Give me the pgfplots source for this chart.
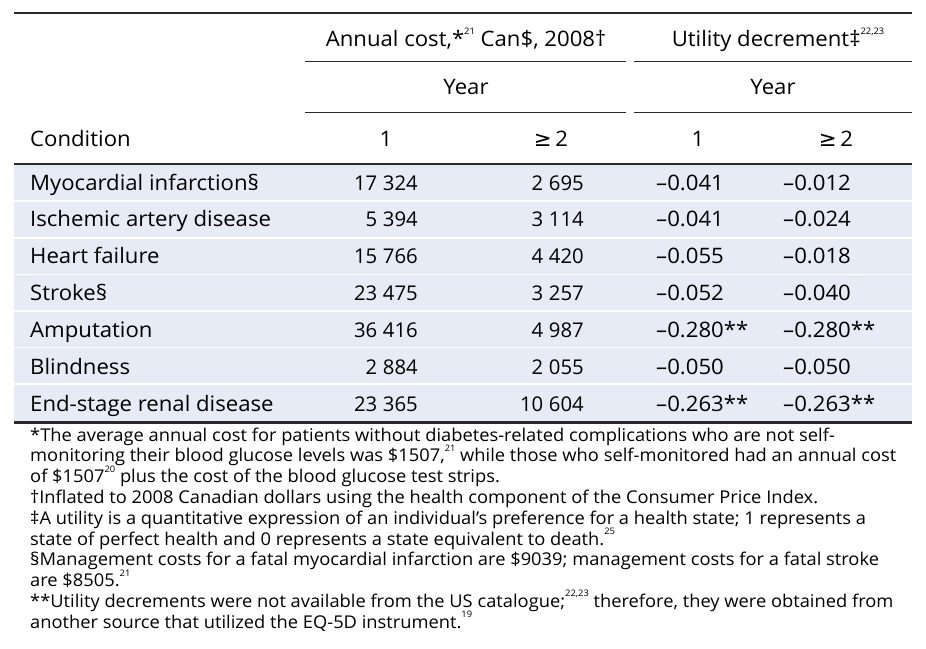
\documentclass[border=0pt]{standalone}
\usepackage{fontspec}
\setmainfont[FakeStretch=1.04]{Open Sans}
\newfontfamily\plainfont{Open Sans}
\newfontfamily\symfont{DejaVu Sans}
\usepackage{pgfplots}
\pgfplotsset{compat=1.18}
\usepackage{pgfplotstable}
\definecolor{band}{HTML}{E7EBF5}
\definecolor{rulec}{HTML}{2A2A2A}
\newcommand\sups[1]{\raisebox{0.6em}{\fontsize{9bp}{9bp}\selectfont #1}}
\newcommand\tfont{\fontsize{21.3bp}{25bp}\selectfont}
\newcommand\nfont{\plainfont\fontsize{20.3bp}{25bp}\selectfont}
\newcommand\ffont{\fontsize{17.6bp}{22bp}\selectfont}
\newcommand\gesym{{\symfont ≥}}

\pgfplotstableread[col sep=semicolon]{
base;cond;c1;c2;u1;u2
190;Myocardial infarction§;17324;2695;–0.041;–0.012
226.8;Ischemic artery disease;5394;3114;–0.041;–0.024
263.7;Heart failure;15766;4420;–0.055;–0.018
300.5;Stroke§;23475;3257;–0.052;–0.040
337.3;Amputation;36416;4987;–0.280**;–0.280**
374.2;Blindness;2884;2055;–0.050;–0.050
411;End-stage renal disease;23365;10604;–0.263**;–0.263**
}\tabdata

\begin{document}
\begin{tikzpicture}
\begin{axis}[
  x=1bp, y=1bp, y dir=reverse,
  xmin=0, xmax=926, ymin=0, ymax=649,
  hide axis, clip=false,
  every node near coord/.append style={font=\tfont, inner sep=0pt, text=black},
]
% row shading
\addplot[fill=band, draw=none] coordinates {(14,165) (912,165) (912,421) (14,421)};
\addplot[white, line width=1.8bp] coordinates {(14,201) (912,201)};
\addplot[white, line width=1.8bp] coordinates {(14,238) (912,238)};
\addplot[white, line width=1.8bp] coordinates {(14,274.5) (912,274.5)};
\addplot[white, line width=1.8bp] coordinates {(14,311) (912,311)};
\addplot[white, line width=1.8bp] coordinates {(14,347.5) (912,347.5)};
\addplot[white, line width=1.8bp] coordinates {(14,384) (912,384)};
% rules
\addplot[rulec, line width=1.3bp] coordinates {(14,13) (912,13)};
\addplot[rulec, line width=1bp] coordinates {(305,62) (626,62)};
\addplot[rulec, line width=1bp] coordinates {(634,62) (912,62)};
\addplot[rulec, line width=1bp] coordinates {(305,113) (626,113)};
\addplot[rulec, line width=1bp] coordinates {(634,113) (912,113)};
\addplot[rulec, line width=1.6bp] coordinates {(14,164) (912,164)};
\addplot[rulec, line width=3bp] coordinates {(14,422.5) (912,422.5)};
% table body
\addplot[draw=none, mark=none, nodes near coords, point meta=explicit symbolic,
  every node near coord/.append style={anchor=base west}]
  table[x expr=30, y=base, meta=cond]{\tabdata};
\addplot[draw=none, mark=none, nodes near coords={\pgfmathprintnumber[assume math mode=true, 1000 sep={\hspace{0.28em}}]{\pgfplotspointmeta}}, point meta=explicit,
  every node near coord/.append style={anchor=base east, font=\nfont}]
  table[x expr=418, y=base, meta=c1]{\tabdata};
\addplot[draw=none, mark=none, nodes near coords={\pgfmathprintnumber[assume math mode=true, 1000 sep={\hspace{0.28em}}]{\pgfplotspointmeta}}, point meta=explicit,
  every node near coord/.append style={anchor=base east, font=\nfont}]
  table[x expr=584, y=base, meta=c2]{\tabdata};
\addplot[draw=none, mark=none, nodes near coords, point meta=explicit symbolic,
  every node near coord/.append style={anchor=base west}]
  table[x expr=656, y=base, meta=u1]{\tabdata};
\addplot[draw=none, mark=none, nodes near coords, point meta=explicit symbolic,
  every node near coord/.append style={anchor=base west}]
  table[x expr=783, y=base, meta=u2]{\tabdata};
% headers
\node[anchor=base, inner sep=0pt, font=\tfont] at (axis cs:466,47) {Annual cost,*\sups{21} Can\$, 2008†};
\node[anchor=base, inner sep=0pt, font=\tfont] at (axis cs:778,47) {Utility decrement‡\sups{22,23}};
\node[anchor=base, inner sep=0pt, font=\tfont] at (axis cs:466,95) {Year};
\node[anchor=base, inner sep=0pt, font=\tfont] at (axis cs:773,95) {Year};
\node[anchor=base west, inner sep=0pt, font=\tfont] at (axis cs:30,147) {Condition};
\node[anchor=base, inner sep=0pt, font=\tfont] at (axis cs:386,147) {1};
\node[anchor=base, inner sep=0pt, font=\tfont] at (axis cs:551,147) {\gesym\,2};
\node[anchor=base, inner sep=0pt, font=\tfont] at (axis cs:698,147) {1};
\node[anchor=base, inner sep=0pt, font=\tfont] at (axis cs:836,147) {\gesym\,2};
% footnotes
\begin{scope}[every node/.style={anchor=base west, inner sep=0pt, font=\ffont}]
\node at (axis cs:30,441) {*The average annual cost for patients without diabetes-related complications who are not self-};
\node at (axis cs:30,461.8) {monitoring their blood glucose levels was \$1507,\sups{21} while those who self-monitored had an annual cost};
\node at (axis cs:30,482.6) {of \$1507\sups{20} plus the cost of the blood glucose test strips.};
\node at (axis cs:30,503.4) {†Inflated to 2008 Canadian dollars using the health component of the Consumer Price Index.};
\node at (axis cs:30,524.2) {‡A utility is a quantitative expression of an individual’s preference for a health state; 1 represents a};
\node at (axis cs:30,545) {state of perfect health and 0 represents a state equivalent to death.\sups{25}};
\node at (axis cs:30,565.8) {§Management costs for a fatal myocardial infarction are \$9039; management costs for a fatal stroke};
\node at (axis cs:30,586.6) {are \$8505.\sups{21}};
\node at (axis cs:30,607.4) {**Utility decrements were not available from the US catalogue;\sups{22,23} therefore, they were obtained from};
\node at (axis cs:30,628.2) {another source that utilized the EQ-5D instrument.\sups{19}};
\end{scope}
\end{axis}
\pgfresetboundingbox
\path (current axis.south west) rectangle (current axis.north east);
\end{tikzpicture}
\end{document}
